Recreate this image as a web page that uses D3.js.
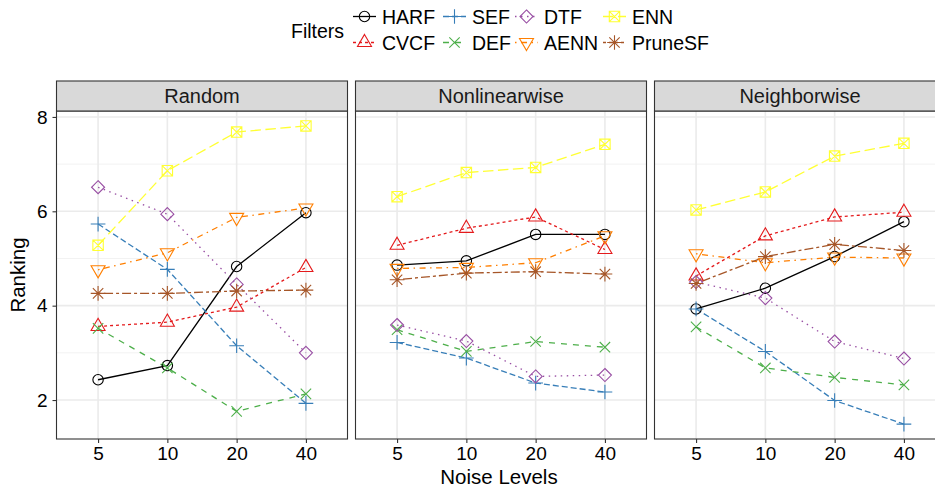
<!DOCTYPE html>
<html>
<head>
<meta charset="utf-8">
<script src="https://cdn.jsdelivr.net/npm/d3@7"></script>
<style>
  body { margin: 0; background: #fff; }
  svg { display: block; font-family: "Liberation Sans", Arial, sans-serif; }
</style>
</head>
<body>
<svg id="chart" width="935" height="490"></svg>
<script>
const filters = ["HARF", "CVCF", "SEF", "DEF", "DTF", "AENN", "ENN", "PruneSF"];
const noiseLevels = ["5", "10", "20", "40"];
const panels = ["Random", "Nonlinearwise", "Neighborwise"];
const yTicks = [2, 4, 6, 8];

// mean ranking, one row per filter (same order as `filters`), one column per noise level
const randomRanks = [
  [2.43, 2.73, 4.83, 5.97],
  [3.56, 3.65, 3.97, 4.81],
  [5.73, 4.77, 3.15, 1.93],
  [3.52, 2.68, 1.76, 2.13],
  [6.51, 5.94, 4.45, 3.00],
  [4.76, 5.12, 5.87, 6.07],
  [5.28, 6.86, 7.68, 7.81],
  [4.26, 4.26, 4.31, 4.33]
];
const nonlinearRanks = [
  [4.86, 4.95, 5.51, 5.51],
  [5.28, 5.64, 5.88, 5.19],
  [3.22, 2.89, 2.36, 2.17],
  [3.49, 3.03, 3.24, 3.12],
  [3.59, 3.25, 2.50, 2.53],
  [4.79, 4.81, 4.91, 5.48],
  [6.31, 6.82, 6.93, 7.42],
  [4.55, 4.69, 4.72, 4.67]
];
const neighborRanks = [
  [3.93, 4.37, 5.04, 5.78],
  [4.63, 5.48, 5.88, 5.98],
  [3.93, 3.03, 1.99, 1.49],
  [3.55, 2.68, 2.48, 2.32],
  [4.50, 4.16, 3.24, 2.88],
  [5.10, 4.91, 5.03, 5.01],
  [6.03, 6.41, 7.17, 7.44],
  [4.47, 5.04, 5.30, 5.17]
];
const panelRanks = [randomRanks, nonlinearRanks, neighborRanks];

// styles
const colors = ["#000000", "#E41A1C", "#377EB8", "#4DAF4A", "#984EA3", "#FF7F00", "#FFFF33", "#A65628"];
const dashes = [null, "3,3", "6,3", "6,6", "1.5,4.5", "1.5,4.5,6,4.5", "10.5,4.5", "3,3,9,3"];
const shapes = ["circle", "triangle", "plus", "cross", "diamond", "triangleDown", "squareX", "asterisk"];

const R = 5.2;
function symbolPath(shape, x, y) {
  const p = d3.path();
  const line = (x1, y1, x2, y2) => { p.moveTo(x + x1, y + y1); p.lineTo(x + x2, y + y2); };
  if (shape === "circle") {
    p.moveTo(x + R, y); p.arc(x, y, R, 0, 2 * Math.PI);
  } else if (shape === "triangle" || shape === "triangleDown") {
    const s = shape === "triangle" ? 1 : -1;
    const r = 1.5551 * R, yc = 0.7776 * R, xc = 1.3468 * R;
    p.moveTo(x, y - s * r); p.lineTo(x + xc, y + s * yc); p.lineTo(x - xc, y + s * yc); p.closePath();
  } else if (shape === "plus") {
    const c = Math.SQRT2 * R;
    line(-c, 0, c, 0); line(0, -c, 0, c);
  } else if (shape === "cross") {
    line(-R, -R, R, R); line(-R, R, R, -R);
  } else if (shape === "diamond") {
    const c = 1.2533 * R;
    p.moveTo(x, y - c); p.lineTo(x + c, y); p.lineTo(x, y + c); p.lineTo(x - c, y); p.closePath();
  } else if (shape === "squareX") {
    p.rect(x - R, y - R, 2 * R, 2 * R);
    line(-R, -R, R, R); line(-R, R, R, -R);
  } else if (shape === "asterisk") {
    const c = Math.SQRT2 * R;
    line(-R, -R, R, R); line(-R, R, R, -R);
    line(-c, 0, c, 0); line(0, -c, 0, c);
  }
  return p.toString();
}

const svg = d3.select("#chart");

// layout
const panelW = 291, panelGap = 8, panelLeft = 56.5;
const stripTop = 81, stripH = 30;
const plotTop = stripTop + stripH, plotBottom = 439;
const fontFam = "Liberation Sans, Arial, sans-serif";

const all = panelRanks.flat(2);
const lo = d3.min(all), hi = d3.max(all), pad = (hi - lo) * 0.05;
const y = d3.scaleLinear().domain([lo - pad, hi + pad]).range([plotBottom, plotTop]);
const minorTicks = [3, 5, 7];

const lineGen = d3.line().x(d => d[0]).y(d => d[1]);

panels.forEach((name, pi) => {
  const x0 = panelLeft + pi * (panelW + panelGap);
  const x = d3.scalePoint().domain(noiseLevels).range([x0, x0 + panelW]).padding(0.6);
  const g = svg.append("g");

  // panel background + grid
  g.append("rect").attr("x", x0).attr("y", plotTop).attr("width", panelW).attr("height", plotBottom - plotTop)
    .attr("fill", "#fff");
  g.selectAll(".minor").data(minorTicks).enter().append("line")
    .attr("x1", x0).attr("x2", x0 + panelW)
    .attr("y1", d => y(d)).attr("y2", d => y(d))
    .attr("stroke", "#F2F2F2").attr("stroke-width", 1);
  g.selectAll(".majorY").data(yTicks).enter().append("line")
    .attr("x1", x0).attr("x2", x0 + panelW)
    .attr("y1", d => y(d)).attr("y2", d => y(d))
    .attr("stroke", "#EBEBEB").attr("stroke-width", 1.6);
  g.selectAll(".majorX").data(noiseLevels).enter().append("line")
    .attr("x1", d => x(d)).attr("x2", d => x(d))
    .attr("y1", plotTop).attr("y2", plotBottom)
    .attr("stroke", "#EBEBEB").attr("stroke-width", 1.6);

  const ranks = panelRanks[pi];
  // lines
  ranks.forEach((row, fi) => {
    const pts = row.map((v, li) => [x(noiseLevels[li]), y(v)]);
    g.append("path").attr("d", lineGen(pts)).attr("fill", "none")
      .attr("stroke", colors[fi]).attr("stroke-width", 1.3)
      .attr("stroke-dasharray", dashes[fi]);
  });
  // points
  ranks.forEach((row, fi) => {
    row.forEach((v, li) => {
      g.append("path").attr("d", symbolPath(shapes[fi], x(noiseLevels[li]), y(v)))
        .attr("fill", "none").attr("stroke", colors[fi]).attr("stroke-width", 1.1);
    });
  });

  // border
  g.append("rect").attr("x", x0).attr("y", plotTop).attr("width", panelW).attr("height", plotBottom - plotTop)
    .attr("fill", "none").attr("stroke", "#333").attr("stroke-width", 1.1);

  // strip
  g.append("rect").attr("x", x0).attr("y", stripTop).attr("width", panelW).attr("height", stripH)
    .attr("fill", "#D9D9D9").attr("stroke", "#333").attr("stroke-width", 1.1);
  g.append("text").attr("x", x0 + panelW / 2).attr("y", stripTop + stripH / 2).attr("dy", "0.36em")
    .attr("text-anchor", "middle").attr("font-size", 20).attr("fill", "#1a1a1a").text(name);

  // x axis
  const xAxis = d3.axisBottom(x).tickSize(4).tickPadding(4);
  const ax = g.append("g").attr("transform", `translate(0,${plotBottom})`).call(xAxis);
  ax.select(".domain").remove();
  ax.selectAll(".tick line").attr("stroke", "#333").attr("stroke-width", 1.1);
  ax.selectAll(".tick text").attr("font-size", 19).attr("fill", "#000").attr("font-family", fontFam);

  if (pi === 0) {
    const yAxis = d3.axisLeft(y).tickValues(yTicks).tickFormat(d3.format("d")).tickSize(4).tickPadding(5);
    const ay = g.append("g").attr("transform", `translate(${x0},0)`).call(yAxis);
    ay.select(".domain").remove();
    ay.selectAll(".tick line").attr("stroke", "#333").attr("stroke-width", 1.1);
    ay.selectAll(".tick text").attr("font-size", 19).attr("fill", "#000").attr("font-family", fontFam);
  }
});

// axis titles
svg.append("text").attr("x", 499).attr("y", 484).attr("text-anchor", "middle")
  .attr("font-size", 20.5).attr("fill", "#000").text("Noise Levels");
svg.append("text").attr("transform", "translate(25,275) rotate(-90)").attr("text-anchor", "middle")
  .attr("font-size", 20.5).attr("fill", "#000").text("Ranking");

// legend
const legendCols = [353, 443, 515, 603];
const legendRows = [16.5, 42.5];
const leg = svg.append("g");
leg.append("text").attr("x", 291).attr("y", 31).attr("dy", "0.36em")
  .attr("font-size", 19.5).attr("fill", "#000").text("Filters");
filters.forEach((f, i) => {
  const cx = legendCols[Math.floor(i / 2)], cy = legendRows[i % 2];
  leg.append("line").attr("x1", cx).attr("x2", cx + 23).attr("y1", cy).attr("y2", cy)
    .attr("stroke", colors[i]).attr("stroke-width", 1.3).attr("stroke-dasharray", dashes[i]);
  leg.append("path").attr("d", symbolPath(shapes[i], cx + 11.5, cy))
    .attr("fill", "none").attr("stroke", colors[i]).attr("stroke-width", 1.1);
  leg.append("text").attr("x", cx + 29).attr("y", cy).attr("dy", "0.36em")
    .attr("font-size", 19.5).attr("fill", "#000").text(f);
});
</script>
</body>
</html>
